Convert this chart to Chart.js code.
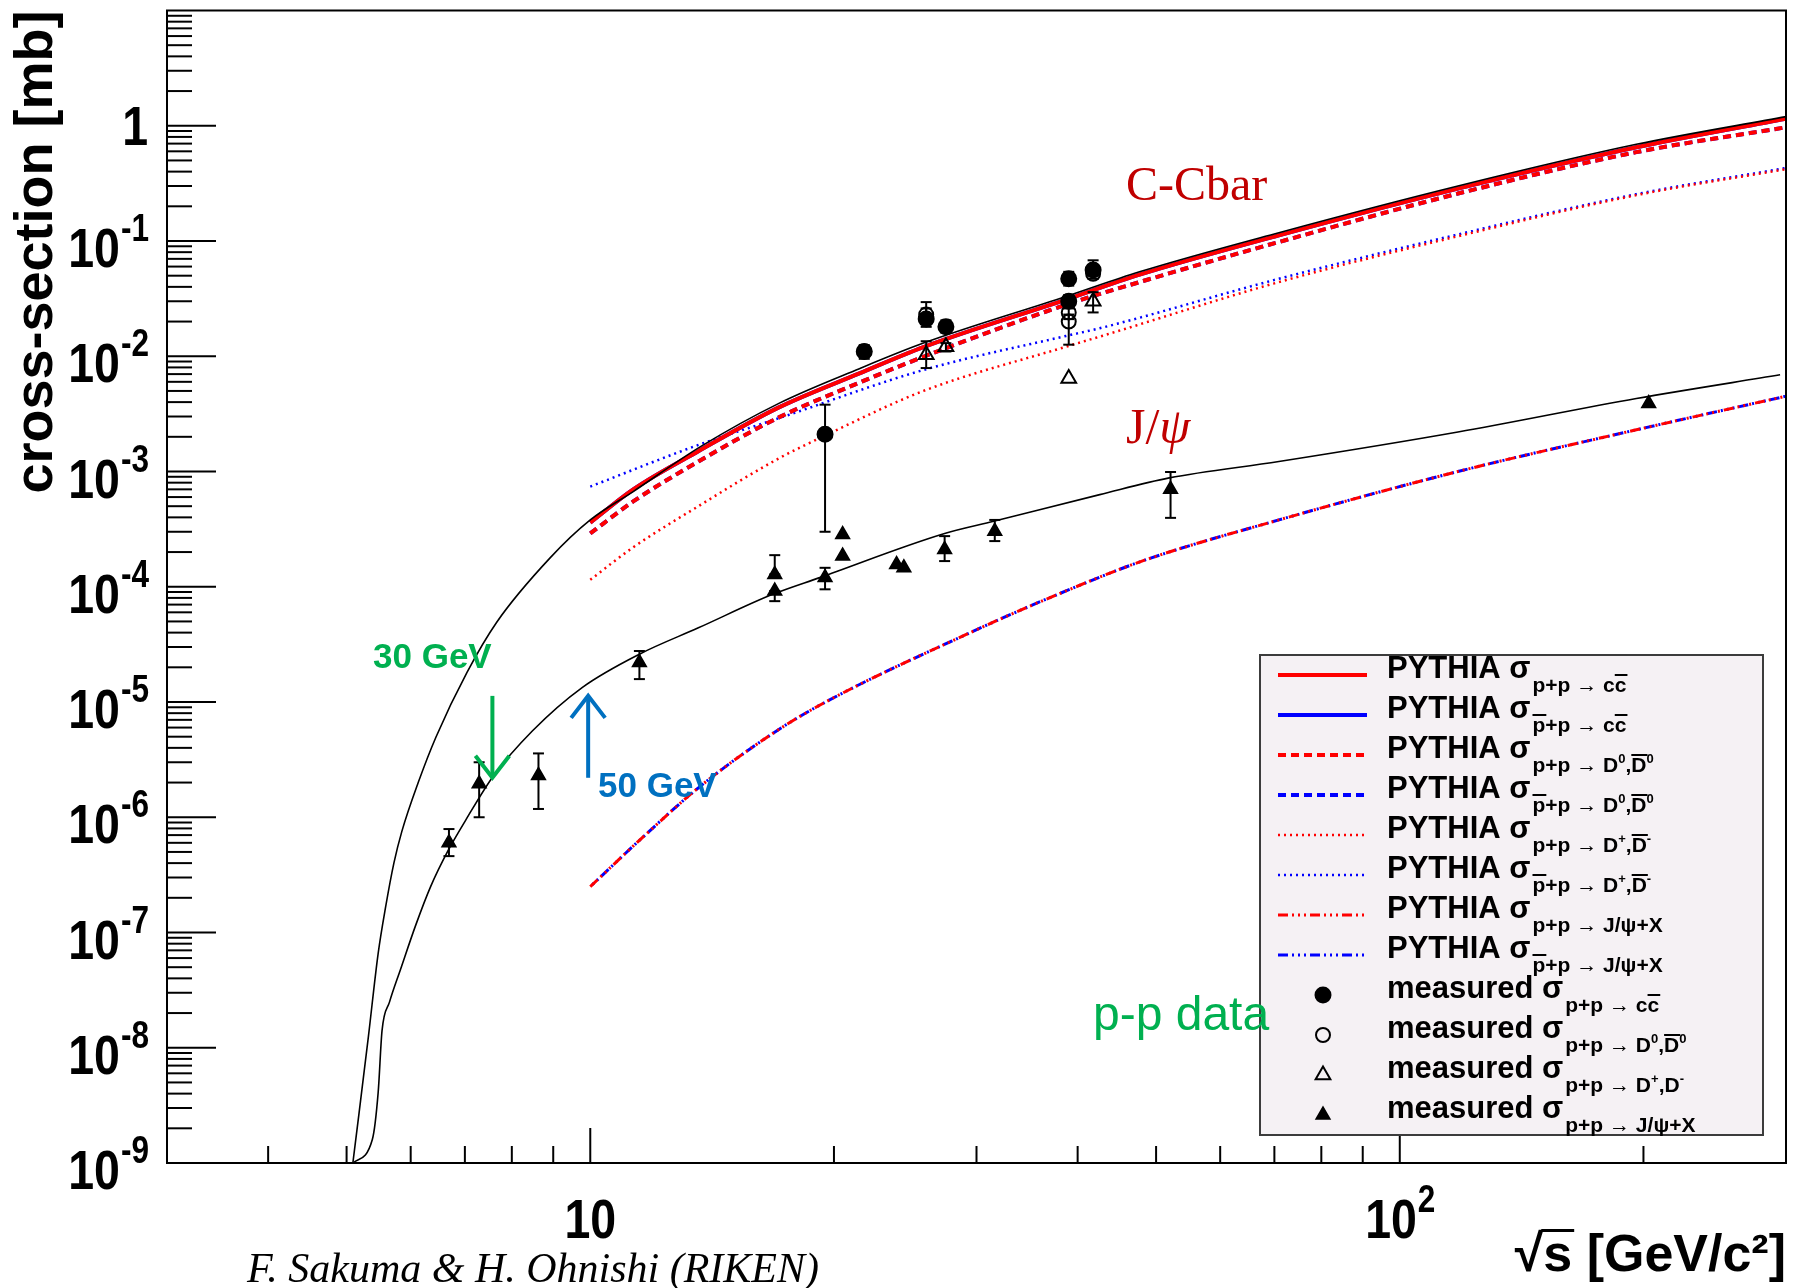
<!DOCTYPE html>
<html>
<head>
<meta charset="utf-8">
<title>Charm and J/psi production cross-section</title>
<script src="https://cdn.jsdelivr.net/npm/chart.js@4.4.1/dist/chart.umd.min.js"></script>
<style>
  html, body { margin: 0; padding: 0; background: #fff; }
  #plot { display: block; }
</style>
</head>
<body>
<canvas id="plot" width="1800" height="1288"></canvas>
<script>
// ================== DATA (sqrt(s) in GeV, cross-section in mb) ==================

// black theory curves
const ccTheoryX = [5.09, 5.18, 5.32, 5.47, 5.59, 5.72, 5.85, 6.13, 6.45, 7.04, 7.66, 8.92, 10, 11.3, 13.7, 17.1, 21.5, 25.8, 38.7, 47.7, 70.9, 118, 196, 300];
const ccTheoryY = [1e-9, 2.7e-9, 1.25e-8, 6.6e-8, 1.7e-7, 4.0e-7, 7.5e-7, 2e-6, 5e-6, 1.8e-5, 4.9e-5, 1.78e-4, 3.8e-4, 6.7e-4, 1.65e-3, 3.9e-3, 7.8e-3, 1.3e-2, 3.3e-2, 5.4e-2, 0.118, 0.3, 0.69, 1.2];
const jpsiTheoryX = [5.09, 5.38, 5.47, 5.53, 5.65, 5.83, 6.09, 6.35, 6.68, 7.02, 7.58, 8.48, 9.78, 11.5, 13.6, 16.8, 19.2, 27.4, 31.5, 42.6, 51.9, 70.9, 118, 196, 295];
const jpsiTheoryY = [1e-9, 1.6e-9, 4.1e-9, 1.4e-8, 2.5e-8, 4.8e-8, 1.17e-7, 2.5e-7, 5.2e-7, 9.5e-7, 2.25e-6, 5.6e-6, 1.34e-5, 2.6e-5, 4.4e-5, 8.6e-5, 1.2e-4, 2.9e-4, 3.7e-4, 6.3e-4, 8.8e-4, 1.22e-3, 2.2e-3, 4.3e-3, 6.9e-3];

// PYTHIA curves
const pythiaX = [10, 11.3, 13.6, 17.1, 21.5, 25.8, 38.7, 47.7, 70.9, 118, 196, 300];
const ppCC = [3.6e-4, 7.0e-4, 1.5e-3, 3.6e-3, 7.1e-3, 1.2e-2, 3.1e-2, 5.1e-2, 0.112, 0.285, 0.65, 1.15];
const ppD0 = [2.9e-4, 5.5e-4, 1.22e-3, 2.95e-3, 5.9e-3, 9.9e-3, 2.8e-2, 4.4e-2, 9.8e-2, 0.258, 0.59, 0.97];
const pbarpCC = ppCC.slice();   // blue curves lie under the red ones
const pbarpD0 = ppD0.slice();

const ppDcX = [10, 11.3, 13.6, 17.1, 19.5, 25.8, 38.7, 42.6, 70.9, 118, 196, 300];
const ppDc = [1.15e-4, 2.2e-4, 5.0e-4, 1.3e-3, 2.05e-3, 5.0e-3, 1.21e-2, 1.48e-2, 4.4e-2, 0.11, 0.25, 0.42];
const pbarpDcX = [10, 13.6, 17.1, 25.8, 38.7, 42.6, 70.9, 118, 196, 300];
const pbarpDc = [7.4e-4, 1.7e-3, 2.9e-3, 7.6e-3, 1.5e-2, 1.75e-2, 4.7e-2, 0.114, 0.255, 0.43];

const jpsiX = [10, 11.5, 13.6, 16.5, 19.0, 29.7, 38.7, 48.4, 70.9, 118, 196, 300];
const ppJpsi = [2.5e-7, 6.3e-7, 1.8e-6, 4.9e-6, 9.0e-6, 4.1e-5, 9.2e-5, 1.7e-4, 3.8e-4, 1.0e-3, 2.3e-3, 4.5e-3];
const pbarpJpsi = ppJpsi.slice();

// measured p+p data
const ccMeasX  = [19.5, 21.8, 26.0, 27.5, 39.0, 39.0, 41.8];
const ccMeasY  = [2.1e-3, 1.1e-2, 2.1e-2, 1.8e-2, 4.7e-2, 3.0e-2, 5.6e-2];
const ccMeasLo = [3.0e-4, 9.5e-3, 1.8e-2, 1.6e-2, 4.1e-2, 2.6e-2, 5.0e-2];
const ccMeasHi = [3.8e-3, 1.25e-2, 2.95e-2, 2.05e-2, 5.4e-2, 3.4e-2, 6.8e-2];

const d0MeasX  = [21.8, 26.0, 39.0, 39.0, 41.8];
const d0MeasY  = [1.1e-2, 2.3e-2, 2.4e-2, 2.0e-2, 5.2e-2];
const d0MeasLo = [1.0e-2, 2.0e-2, 2.1e-2, 1.26e-2, 4.7e-2];
const d0MeasHi = [1.2e-2, 2.6e-2, 2.7e-2, 2.3e-2, 5.8e-2];

const dcMeasX  = [26.0, 27.5, 39.0, 41.8];
const dcMeasY  = [1.03e-2, 1.21e-2, 6.4e-3, 3.0e-2];
const dcMeasLo = [7.9e-3, 1.1e-2, 6.4e-3, 2.4e-2];
const dcMeasHi = [1.35e-2, 1.3e-2, 6.4e-3, 3.6e-2];

const jpsiMeasX  = [6.69, 7.29, 8.63, 11.5, 16.9, 16.9, 19.5, 20.5, 20.5, 23.9, 24.4, 27.4, 31.6, 52.1, 203];
const jpsiMeasY  = [6.0e-7, 1.95e-6, 2.3e-6, 2.2e-5, 1.28e-4, 9.2e-5, 1.2e-4, 1.85e-4, 2.84e-4, 1.56e-4, 1.46e-4, 2.11e-4, 3.03e-4, 7.0e-4, 3.9e-3];
const jpsiMeasLo = [4.6e-7, 1.0e-6, 1.18e-6, 1.58e-5, 1.28e-4, 7.5e-5, 9.5e-5, 1.85e-4, 2.84e-4, 1.56e-4, 1.46e-4, 1.67e-4, 2.49e-4, 3.96e-4, 3.9e-3];
const jpsiMeasHi = [7.9e-7, 3.0e-6, 3.58e-6, 2.77e-5, 1.88e-4, 9.2e-5, 1.46e-4, 1.85e-4, 2.84e-4, 1.56e-4, 1.46e-4, 2.75e-4, 3.8e-4, 9.9e-4, 3.9e-3];

// axis ticks
const xTicks = [10, 100];
const xTickLabels = ['10', '10^2'];
const yTicks = [1e-9, 1e-8, 1e-7, 1e-6, 1e-5, 1e-4, 1e-3, 1e-2, 1e-1, 1];
const yTickLabels = ['10^-9', '10^-8', '10^-7', '10^-6', '10^-5', '10^-4', '10^-3', '10^-2', '10^-1', '1'];

// ================== STYLE ==================
const SANS = '"Liberation Sans", Arial, Helvetica, sans-serif';
const SERIF = '"Liberation Serif", "Times New Roman", serif';
const RED = '#ff0000';
const BLUE = '#0000ff';
const DASH = [8, 5];
const DOT = [2, 4];
const DASHDOT = [10, 4, 2, 4, 2, 4, 2, 4];
const X_TITLE = '√s [GeV/c²]';

function pts(xs, ys) {
    return xs.map(function (x, i) { return { x: x, y: ys[i] }; });
}

function curve(label, xs, ys, color, width, dash, order, dashOffset) {
    return {
        label: label, data: pts(xs, ys),
        borderColor: color, borderWidth: width,
        borderDash: dash || [], borderDashOffset: dashOffset || 0,
        pointRadius: 0, fill: false,
        cubicInterpolationMode: 'monotone', order: order
    };
}

function markers(label, xs, ys, style, filled, radius) {
    return {
        label: label, data: pts(xs, ys), showLine: false,
        pointStyle: style, pointRadius: radius,
        pointBackgroundColor: filled ? '#000' : 'rgba(0,0,0,0)',
        pointBorderColor: '#000', pointBorderWidth: 2, order: 0
    };
}

const dsCCTheory = curve('c-cbar theory', ccTheoryX, ccTheoryY, '#000', 1.6, [], 1);
const dsJpsiTheory = curve('J/psi theory', jpsiTheoryX, jpsiTheoryY, '#000', 1.6, [], 1);
const dsPpCC = curve('pp cc', pythiaX, ppCC, RED, 4, [], 2);
const dsPbCC = curve('pbarp cc', pythiaX, pbarpCC, BLUE, 4, [], 3);
const dsPpD0 = curve('pp D0', pythiaX, ppD0, RED, 4, DASH, 2);
const dsPbD0 = curve('pbarp D0', pythiaX, pbarpD0, BLUE, 4, DASH, 3);
const dsPpDc = curve('pp D+', ppDcX, ppDc, RED, 2.5, DOT, 2);
const dsPbDc = curve('pbarp D+', pbarpDcX, pbarpDc, BLUE, 2.5, DOT, 3);
const dsPpJ = curve('pp J/psi', jpsiX, ppJpsi, RED, 3, DASHDOT, 2);
const dsPbJ = curve('pbarp J/psi', jpsiX, pbarpJpsi, BLUE, 3, DASHDOT, 3, 17);
const dsMeasCC = markers('meas cc', ccMeasX, ccMeasY, 'circle', true, 7.5);
const dsMeasD0 = markers('meas D0', d0MeasX, d0MeasY, 'circle', false, 7);
const dsMeasDc = markers('meas D+', dcMeasX, dcMeasY, 'triangle', false, 8.5);
const dsMeasJ = markers('meas J/psi', jpsiMeasX, jpsiMeasY, 'triangle', true, 7.5);

const errorSets = [
    { xs: ccMeasX, lo: ccMeasLo, hi: ccMeasHi },
    { xs: d0MeasX, lo: d0MeasLo, hi: d0MeasHi },
    { xs: dcMeasX, lo: dcMeasLo, hi: dcMeasHi },
    { xs: jpsiMeasX, lo: jpsiMeasLo, hi: jpsiMeasHi }
];

// legend rows: "~" puts a bar over the next char, "^" raises it
const legendRows = [
    { ds: dsPpCC, main: 'PYTHIA σ', sub: 'p+p → c~c' },
    { ds: dsPbCC, main: 'PYTHIA σ', sub: '~p+p → c~c' },
    { ds: dsPpD0, main: 'PYTHIA σ', sub: 'p+p → D^0,~D^0' },
    { ds: dsPbD0, main: 'PYTHIA σ', sub: '~p+p → D^0,~D^0' },
    { ds: dsPpDc, main: 'PYTHIA σ', sub: 'p+p → D^+,~D^-' },
    { ds: dsPbDc, main: 'PYTHIA σ', sub: '~p+p → D^+,~D^-' },
    { ds: dsPpJ, main: 'PYTHIA σ', sub: 'p+p → J/ψ+X' },
    { ds: dsPbJ, main: 'PYTHIA σ', sub: '~p+p → J/ψ+X' },
    { ds: dsMeasCC, main: 'measured σ', sub: 'p+p → c~c' },
    { ds: dsMeasD0, main: 'measured σ', sub: 'p+p → D^0,~D^0' },
    { ds: dsMeasDc, main: 'measured σ', sub: 'p+p → D^+,D^-' },
    { ds: dsMeasJ, main: 'measured σ', sub: 'p+p → J/ψ+X' }
];

// ================== DRAWING HELPERS ==================

function squashed(ctx, text, x, y, font) {
    ctx.save();
    ctx.font = font;
    ctx.translate(x, y);
    ctx.scale(0.83, 1);
    ctx.fillText(text, 0, 0);
    ctx.restore();
}

// "10^-3" style label, base + raised exponent
function sciLabel(ctx, text, x, y, align) {
    const parts = text.split('^');
    const fb = 'bold 56px ' + SANS;
    const fe = 'bold 38px ' + SANS;
    ctx.font = fb;
    const bw = ctx.measureText(parts[0]).width * 0.83;
    let ew = 0;
    if (parts[1]) {
        ctx.font = fe;
        ew = ctx.measureText(parts[1]).width * 0.83;
    }
    const x0 = align === 'right' ? x - bw - ew : x - (bw + ew) / 2;
    squashed(ctx, parts[0], x0, y, fb);
    if (parts[1]) squashed(ctx, parts[1], x0 + bw + 1, y - 26, fe);
}

function drawSub(ctx, s, x, y) {
    const f = 'bold 21px ' + SANS;
    const fs = 'bold 13px ' + SANS;
    let bar = false, sup = false;
    for (const ch of s) {
        if (ch === '~') { bar = true; continue; }
        if (ch === '^') { sup = true; continue; }
        ctx.font = sup ? fs : f;
        const w = ctx.measureText(ch).width;
        ctx.fillText(ch, x, sup ? y - 9 : y);
        if (bar) ctx.fillRect(x, y - 18, w + 1, 2);
        x += w;
        bar = false; sup = false;
    }
}

function line(ctx, x1, y1, x2, y2) {
    ctx.beginPath();
    ctx.moveTo(x1, y1);
    ctx.lineTo(x2, y2);
    ctx.stroke();
}

function arrow(ctx, x, yTail, yTip, color) {
    const dir = yTip > yTail ? 1 : -1;
    ctx.save();
    ctx.strokeStyle = color;
    ctx.lineWidth = 4;
    ctx.lineCap = 'butt';
    line(ctx, x, yTail, x, yTip);
    ctx.beginPath();
    ctx.moveTo(x - 17, yTip - dir * 22);
    ctx.lineTo(x, yTip);
    ctx.lineTo(x + 17, yTip - dir * 22);
    ctx.stroke();
    ctx.restore();
}

// ================== ROOT-LIKE FRAME, TICKS, LEGEND, NOTES ==================
const rootStyle = {
    id: 'rootStyle',
    afterDatasetsDraw: function (chart) {
        const ctx = chart.ctx;
        const xs = chart.scales.x, ys = chart.scales.y;
        ctx.save();
        ctx.strokeStyle = '#000';
        ctx.lineWidth = 2;
        errorSets.forEach(function (set) {
            set.xs.forEach(function (xv, i) {
                if (set.lo[i] === set.hi[i]) return;
                const px = xs.getPixelForValue(xv);
                const p1 = ys.getPixelForValue(set.lo[i]);
                const p2 = ys.getPixelForValue(set.hi[i]);
                line(ctx, px, p1, px, p2);
                line(ctx, px - 5.5, p1, px + 5.5, p1);
                line(ctx, px - 5.5, p2, px + 5.5, p2);
            });
        });
        ctx.restore();
    },
    afterDraw: function (chart) {
        const ctx = chart.ctx;
        const a = chart.chartArea;
        const xs = chart.scales.x, ys = chart.scales.y;
        ctx.save();

        // frame
        ctx.strokeStyle = '#000';
        ctx.lineWidth = 2;
        ctx.strokeRect(a.left, a.top, a.right - a.left, a.bottom - a.top);

        // y ticks inside the frame
        for (let e = -9; e <= 0; e++) {
            for (let m = 1; m <= 9; m++) {
                const py = ys.getPixelForValue(m * Math.pow(10, e));
                line(ctx, a.left, py, a.left + (m === 1 ? 49 : 25), py);
            }
        }
        // x ticks
        for (let e = 0; e <= 2; e++) {
            for (let m = 1; m <= 9; m++) {
                const v = m * Math.pow(10, e);
                if (v <= 3 || v >= 300) continue;
                const px = xs.getPixelForValue(v);
                line(ctx, px, a.bottom, px, a.bottom - (m === 1 ? 35 : 17));
            }
        }

        // tick labels
        ctx.fillStyle = '#000';
        ctx.textBaseline = 'alphabetic';
        ctx.textAlign = 'left';
        yTicks.forEach(function (v, i) {
            const py = ys.getPixelForValue(v);
            const lab = yTickLabels[i];
            sciLabel(ctx, lab, 148, py + (lab.indexOf('^') >= 0 ? 26 : 19), 'right');
        });
        xTicks.forEach(function (v, i) {
            sciLabel(ctx, xTickLabels[i], xs.getPixelForValue(v), 1238, 'center');
        });

        // bar of the square root in the x title
        ctx.font = 'bold 52px ' + SANS;
        const tx0 = xs.right - ctx.measureText(X_TITLE).width;
        const rw = ctx.measureText('√').width;
        const sw = ctx.measureText('s').width;
        ctx.fillRect(tx0 + rw - 2, 1229, sw + 4, 3);

        // legend box
        const lx = 1260, ly = 655, lw = 503, lh = 480;
        ctx.fillStyle = '#f5f1f4';
        ctx.fillRect(lx, ly, lw, lh);
        ctx.strokeStyle = '#3c3c3c';
        ctx.lineWidth = 2;
        ctx.strokeRect(lx, ly, lw, lh);
        legendRows.forEach(function (row, i) {
            const ry = 675 + 40 * i;
            const ds = row.ds;
            if (ds.showLine === false) {
                ctx.fillStyle = ds.pointBackgroundColor;
                ctx.strokeStyle = ds.pointBorderColor;
                ctx.lineWidth = ds.pointBorderWidth;
                ctx.setLineDash([]);
                Chart.helpers.drawPoint(ctx, {
                    pointStyle: ds.pointStyle, rotation: 0,
                    radius: ds.pointRadius, borderWidth: ds.pointBorderWidth
                }, 1323, ry);
            } else {
                ctx.strokeStyle = ds.borderColor;
                ctx.lineWidth = ds.borderWidth;
                ctx.setLineDash(ds.borderDash);
                ctx.lineDashOffset = 0;
                line(ctx, 1278, ry, 1367, ry);
                ctx.setLineDash([]);
            }
            ctx.fillStyle = '#000';
            ctx.font = 'bold 31px ' + SANS;
            ctx.fillText(row.main, 1387, ry + 3);
            const mw = ctx.measureText(row.main).width;
            drawSub(ctx, row.sub, 1387 + mw + 2, ry + 17);
        });

        // annotations
        ctx.fillStyle = '#c00000';
        ctx.font = '48px ' + SERIF;
        ctx.fillText('C-Cbar', 1126, 200);
        ctx.font = '50px ' + SERIF;
        ctx.fillText('J/', 1126, 443);
        const jw = ctx.measureText('J/').width;
        ctx.font = 'italic 50px ' + SERIF;
        ctx.fillText('ψ', 1126 + jw, 443);

        ctx.fillStyle = '#00b050';
        ctx.font = 'bold 35px ' + SANS;
        ctx.fillText('30 GeV', 373, 668);
        ctx.font = '48px ' + SANS;
        ctx.fillText('p-p data', 1093, 1030);
        arrow(ctx, xs.getPixelForValue(7.57), ys.getPixelForValue(1.13e-5), ys.getPixelForValue(2.2e-6), '#00b050');

        ctx.fillStyle = '#0070c0';
        ctx.font = 'bold 35px ' + SANS;
        ctx.fillText('50 GeV', 598, 797);
        arrow(ctx, xs.getPixelForValue(9.94), ys.getPixelForValue(2.2e-6), ys.getPixelForValue(1.13e-5), '#0070c0');

        ctx.fillStyle = '#000';
        ctx.font = 'italic 42px ' + SERIF;
        ctx.fillText('F. Sakuma & H. Ohnishi (RIKEN)', 247, 1282);

        ctx.restore();
    }
};

// ================== CHART ==================
new Chart(document.getElementById('plot'), {
    type: 'line',
    data: {
        datasets: [
            dsMeasCC, dsMeasD0, dsMeasDc, dsMeasJ,
            dsCCTheory, dsJpsiTheory,
            dsPpCC, dsPpD0, dsPpDc, dsPpJ,
            dsPbCC, dsPbD0, dsPbDc, dsPbJ
        ]
    },
    options: {
        responsive: false,
        animation: false,
        layout: { padding: { top: 7, right: 14, left: 0, bottom: 0 } },
        plugins: {
            legend: { display: false },
            tooltip: { enabled: false }
        },
        scales: {
            x: {
                type: 'logarithmic', min: 3, max: 300,
                grid: { display: false }, border: { display: false },
                ticks: { display: false },
                title: {
                    display: true, text: X_TITLE, align: 'end', color: '#000',
                    font: { family: SANS, size: 52, weight: 'bold' },
                    padding: { top: 0, bottom: 0 }
                },
                afterFit: function (s) { s.height = 125; }
            },
            y: {
                type: 'logarithmic', min: 1e-9, max: 10,
                grid: { display: false }, border: { display: false },
                ticks: { display: false },
                title: {
                    display: true, text: 'cross-section [mb]', align: 'end', color: '#000',
                    font: { family: SANS, size: 54, weight: 'bold' },
                    padding: { top: 5, bottom: 0 }
                },
                afterFit: function (s) { s.width = 167; }
            }
        }
    },
    plugins: [rootStyle]
});
</script>
</body>
</html>
